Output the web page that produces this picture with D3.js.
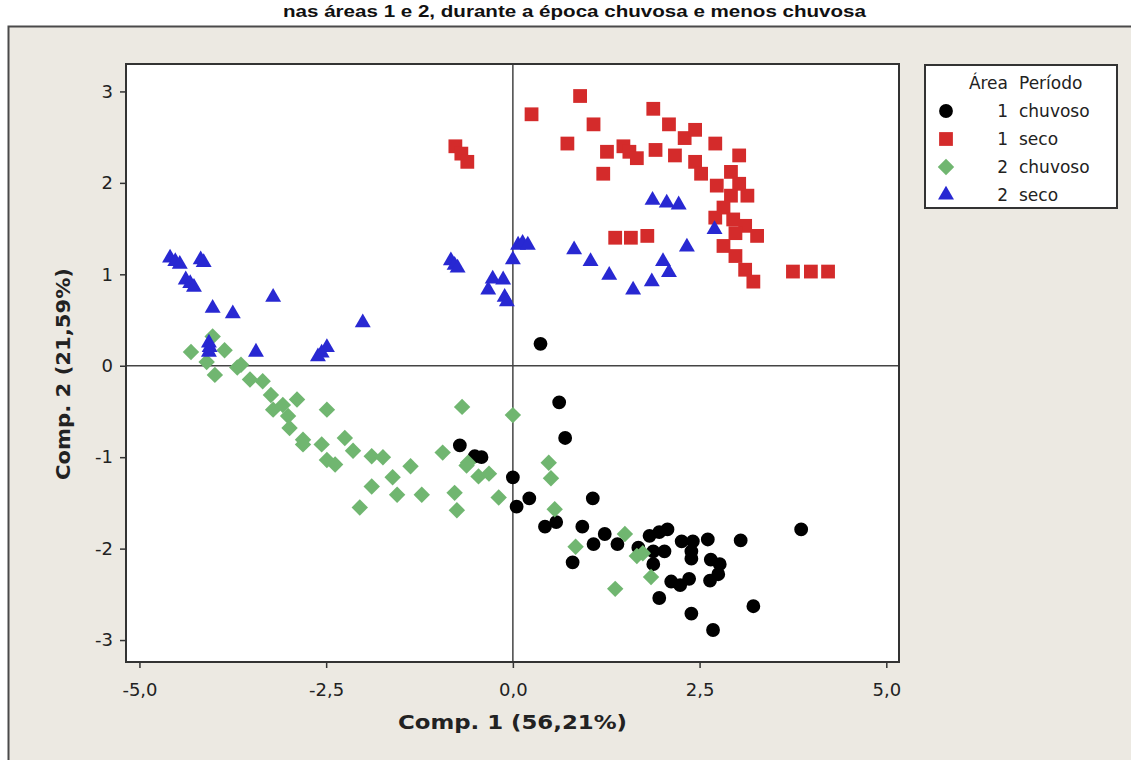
<!DOCTYPE html>
<html>
<head>
<meta charset="utf-8">
<script src="https://cdn.jsdelivr.net/npm/d3@7"></script>
<style>
  body { margin: 0; background: #fff; }
  svg text { font-family: "DejaVu Sans", Verdana, sans-serif; }
</style>
</head>
<body>
<div id="chart"></div>
<script>
// scores: [Comp. 1, Comp. 2]
const area1Chuvoso = [
  [0.37, 0.24], [0.62, -0.40], [0.70, -0.79], [-0.71, -0.87], [-0.51, -0.99], [-0.42, -1.00],
  [0.00, -1.22], [0.22, -1.45], [0.05, -1.54], [1.07, -1.45], [0.43, -1.76], [0.58, -1.71],
  [0.93, -1.76], [1.23, -1.84], [1.08, -1.95], [1.40, -1.95], [0.80, -2.15], [1.68, -1.99],
  [1.83, -1.86], [1.96, -1.82], [2.07, -1.79], [1.88, -2.03], [2.03, -2.03], [1.88, -2.17],
  [2.26, -1.92], [2.41, -1.92], [2.39, -2.03], [2.39, -2.11], [2.61, -1.90], [3.05, -1.91],
  [3.86, -1.79], [2.65, -2.12], [2.77, -2.17], [2.75, -2.28], [2.64, -2.35], [2.12, -2.36],
  [2.24, -2.40], [2.36, -2.33], [1.96, -2.54], [2.39, -2.71], [2.68, -2.89], [3.22, -2.63]
];
const area1Seco = [
  [-0.77, 2.40], [-0.69, 2.32], [-0.61, 2.23], [0.25, 2.75], [0.90, 2.95], [1.08, 2.64],
  [0.73, 2.43], [1.26, 2.34], [1.21, 2.10], [1.48, 2.40], [1.56, 2.34], [1.66, 2.27],
  [1.37, 1.40], [1.58, 1.40], [1.80, 1.42], [1.88, 2.81], [1.91, 2.36], [2.09, 2.64],
  [2.17, 2.30], [2.30, 2.49], [2.44, 2.58], [2.44, 2.23], [2.52, 2.10], [2.71, 2.43],
  [2.73, 1.97], [2.92, 2.12], [3.03, 2.30], [3.03, 1.99], [2.92, 1.86], [3.14, 1.86],
  [2.82, 1.73], [2.71, 1.62], [2.95, 1.60], [3.11, 1.53], [3.27, 1.42], [2.98, 1.45],
  [2.82, 1.31], [2.98, 1.20], [3.11, 1.05], [3.22, 0.92], [3.75, 1.03], [3.99, 1.03],
  [4.22, 1.03]
];
const area2Chuvoso = [
  [-4.31, 0.15], [-4.02, 0.32], [-3.86, 0.17], [-4.10, 0.04], [-3.99, -0.10], [-3.69, -0.02],
  [-3.64, 0.01], [-3.52, -0.15], [-3.35, -0.17], [-3.24, -0.32], [-2.89, -0.37], [-3.21, -0.48],
  [-3.08, -0.43], [-3.01, -0.55], [-2.99, -0.68], [-2.49, -0.48], [-2.81, -0.86], [-2.81, -0.81],
  [-2.56, -0.86], [-2.49, -1.03], [-2.38, -1.08], [-2.25, -0.79], [-2.14, -0.93], [-1.89, -0.99],
  [-1.74, -1.00], [-1.37, -1.10], [-1.61, -1.22], [-1.89, -1.32], [-1.55, -1.41], [-1.22, -1.41],
  [-2.05, -1.55], [-0.94, -0.95], [-0.68, -0.45], [-0.78, -1.39], [-0.75, -1.58], [-0.62, -1.09],
  [-0.60, -1.06], [-0.46, -1.21], [-0.32, -1.18], [-0.19, -1.44], [0.00, -0.54], [0.48, -1.06],
  [0.51, -1.23], [0.56, -1.57], [0.84, -1.98], [1.50, -1.84], [1.66, -2.08], [1.74, -2.05],
  [1.85, -2.31], [1.37, -2.44]
];
const area2Seco = [
  [-4.59, 1.18], [-4.52, 1.14], [-4.46, 1.11], [-4.18, 1.16], [-4.14, 1.13], [-4.38, 0.94],
  [-4.32, 0.90], [-4.27, 0.86], [-4.02, 0.63], [-3.75, 0.57], [-3.21, 0.75], [-4.07, 0.25],
  [-4.06, 0.20], [-4.07, 0.15], [-3.44, 0.15], [-2.61, 0.10], [-2.56, 0.14], [-2.49, 0.20],
  [-2.01, 0.47], [-0.83, 1.15], [-0.78, 1.10], [-0.74, 1.07], [-0.33, 0.83], [-0.27, 0.95],
  [-0.13, 0.94], [-0.11, 0.75], [-0.08, 0.70], [0.00, 1.16], [0.07, 1.32], [0.13, 1.34],
  [0.20, 1.32], [0.82, 1.27], [1.04, 1.14], [1.29, 0.99], [1.61, 0.83], [1.86, 0.92],
  [2.01, 1.14], [2.09, 1.02], [2.33, 1.30], [1.87, 1.81], [2.06, 1.78], [2.22, 1.76],
  [2.70, 1.49]
];

const xTicks = [-5, -2.5, 0, 2.5, 5];
const yTicks = [-3, -2, -1, 0, 1, 2, 3];
const legendArea = ['1', '1', '2', '2'];
const legendPeriodo = ['chuvoso', 'seco', 'chuvoso', 'seco'];

const titleText = 'nas áreas 1 e 2, durante a época chuvosa e menos chuvosa';
const xTitle = 'Comp. 1 (56,21%)';
const yTitle = 'Comp. 2 (21,59%)';

const W = 1131, H = 760;
const plot = { left: 126, right: 899, top: 64, bottom: 662 };

const svg = d3.select('#chart').append('svg')
    .attr('width', W)
    .attr('height', H);

svg.append('rect').attr('width', W).attr('height', H).attr('fill', '#fff');

// title line above the grey panel
svg.append('text')
    .attr('x', 283).attr('y', 17)
    .attr('textLength', 583)
    .attr('lengthAdjust', 'spacingAndGlyphs')
    .style('font-family', '"Liberation Sans Narrow", "Liberation Sans", sans-serif')
    .style('font-weight', 'bold')
    .style('font-size', '17px')
    .attr('fill', '#111')
    .text(titleText);

// grey panel
svg.append('rect')
    .attr('x', 8.5).attr('y', 26.5)
    .attr('width', W).attr('height', H)
    .attr('fill', '#ECE9E2')
    .attr('stroke', '#4a4a4a')
    .attr('stroke-width', 2);

// data region
svg.append('rect')
    .attr('x', plot.left).attr('y', plot.top)
    .attr('width', plot.right - plot.left).attr('height', plot.bottom - plot.top)
    .attr('fill', '#fff');

const x = d3.scaleLinear().domain([-5.18, 5.17]).range([plot.left, plot.right]);
const y = d3.scaleLinear().domain([-3.24, 3.30]).range([plot.bottom, plot.top]);

const fmtX = d => d.toFixed(1).replace('.', ',');

const xAxis = svg.append('g')
    .attr('transform', `translate(0,${plot.bottom})`)
    .call(d3.axisBottom(x).tickValues(xTicks).tickSize(6).tickPadding(15).tickFormat(fmtX));
const yAxis = svg.append('g')
    .attr('transform', `translate(${plot.left},0)`)
    .call(d3.axisLeft(y).tickValues(yTicks).tickSize(6).tickPadding(7).tickFormat(d => String(d)));

[xAxis, yAxis].forEach(g => {
    g.select('.domain').remove();
    g.selectAll('line').attr('stroke', '#333').attr('stroke-width', 1.5);
    g.selectAll('text')
        .style('font-size', '18px')
        .style('font-family', '"DejaVu Sans", sans-serif')
        .attr('fill', '#222');
});

// reference lines at zero
svg.append('line')
    .attr('x1', x(0)).attr('x2', x(0))
    .attr('y1', plot.top).attr('y2', plot.bottom)
    .attr('stroke', '#444').attr('stroke-width', 1.5);
svg.append('line')
    .attr('x1', plot.left).attr('x2', plot.right)
    .attr('y1', y(0)).attr('y2', y(0))
    .attr('stroke', '#444').attr('stroke-width', 1.5);

// frame
svg.append('rect')
    .attr('x', plot.left).attr('y', plot.top)
    .attr('width', plot.right - plot.left).attr('height', plot.bottom - plot.top)
    .attr('fill', 'none')
    .attr('stroke', '#333')
    .attr('stroke-width', 2);

const groups = [
    { data: area1Chuvoso, color: '#000000', symbol: d3.symbolCircle, size: 150, rot: 0 },
    { data: area1Seco, color: '#D42B2B', symbol: d3.symbolSquare, size: 190, rot: 0 },
    { data: area2Chuvoso, color: '#70B670', symbol: d3.symbolSquare, size: 135, rot: 45 },
    { data: area2Seco, color: '#2828D2', symbol: d3.symbolTriangle, size: 110, rot: 0 }
];

groups.forEach(gr => {
    svg.append('g')
      .selectAll('path')
      .data(gr.data)
      .enter().append('path')
        .attr('d', d3.symbol().type(gr.symbol).size(gr.size))
        .attr('transform', d => `translate(${x(d[0])},${y(d[1])}) rotate(${gr.rot})`)
        .attr('fill', gr.color);
});

// axis titles
svg.append('text')
    .attr('x', 398).attr('y', 729)
    .attr('textLength', 229)
    .attr('lengthAdjust', 'spacingAndGlyphs')
    .style('font-weight', 'bold')
    .style('font-size', '20px')
    .attr('fill', '#222')
    .text(xTitle);
svg.append('text')
    .attr('transform', 'translate(70,480) rotate(-90)')
    .attr('textLength', 212)
    .attr('lengthAdjust', 'spacingAndGlyphs')
    .style('font-weight', 'bold')
    .style('font-size', '20px')
    .attr('fill', '#222')
    .text(yTitle);

// legend
const legend = svg.append('g');
legend.append('rect')
    .attr('x', 925).attr('y', 65)
    .attr('width', 192).attr('height', 143)
    .attr('fill', '#fff')
    .attr('stroke', '#333')
    .attr('stroke-width', 2);

legend.append('text')
    .attr('x', 1008).attr('y', 89)
    .attr('text-anchor', 'end')
    .style('font-size', '17px').attr('fill', '#222')
    .text('Área');
legend.append('text')
    .attr('x', 1019).attr('y', 89)
    .style('font-size', '17px').attr('fill', '#222')
    .text('Período');

groups.forEach((gr, i) => {
    const cy = 111 + i * 28;
    legend.append('path')
        .attr('d', d3.symbol().type(gr.symbol).size(gr.size))
        .attr('transform', `translate(946,${cy}) rotate(${gr.rot})`)
        .attr('fill', gr.color);
    legend.append('text')
        .attr('x', 1008).attr('y', cy + 6)
        .attr('text-anchor', 'end')
        .style('font-size', '17px').attr('fill', '#222')
        .text(legendArea[i]);
    legend.append('text')
        .attr('x', 1019).attr('y', cy + 6)
        .style('font-size', '17px').attr('fill', '#222')
        .text(legendPeriodo[i]);
});
</script>
</body>
</html>
